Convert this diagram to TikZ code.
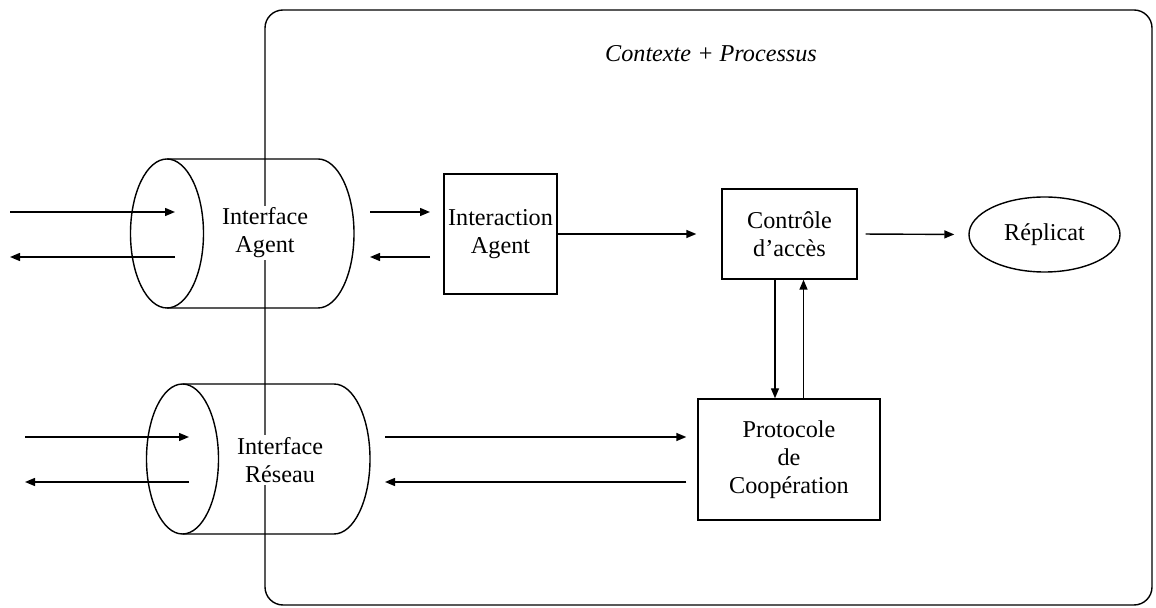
\documentclass[tikz,border=0pt]{standalone}
\usepackage{fontspec}
\setmainfont{Liberation Serif}
\usetikzlibrary{arrows.meta,shapes.geometric}
\begin{document}
\begin{tikzpicture}[x=0.5pt,y=-0.5pt,line width=0.7pt,
  arr/.style={-{Triangle[length=5pt,width=4pt]}},
  lbl/.style={font=\fontsize{12.1}{14}\selectfont,align=center},
  box/.style={lbl,draw,fill=white,inner sep=0pt},
  mask/.style={lbl,fill=white,inner sep=1pt}]
\useasboundingbox (0,0) rectangle (1156,608);
% container
\draw[rounded corners=9pt] (265,10) rectangle (1152,605);
\node[lbl,font=\fontsize{12.1}{14}\selectfont\itshape] (title) at (711,54) {Contexte + Processus};
% cylinder 1
\draw (167,233.5) ellipse [x radius=36.5, y radius=74.5];
\draw (167,159) -- (318,159) arc[start angle=-90,end angle=90,x radius=36,y radius=74.5] -- (167,308);
\node[mask] (ia) at (265,233) {Interface\\Agent};
% cylinder 2
\draw (182.5,459) ellipse [x radius=36, y radius=75];
\draw (182.5,384) -- (334,384) arc[start angle=-90,end angle=90,x radius=36,y radius=75] -- (182.5,534);
\node[mask] (ir) at (280,460) {Interface\\R\'eseau};
% boxes
\node[box,minimum width=56.5pt,minimum height=60pt] (inter) at (500.5,234) {Interaction\\Agent};
\node[box,minimum width=67.5pt,minimum height=45pt] (ctrl) at (789.5,234) {Contr\^ole\\d'acc\`es};
\node[box,ellipse,minimum width=75.5pt,minimum height=37.5pt] (rep) at (1044.5,234.5) {R\'eplicat};
\node[box,minimum width=91pt,minimum height=60.5pt] (proto) at (789,459.5) {Protocole\\de\\Coop\'eration};
% free ends
\coordinate (a1) at (10,212);  \coordinate (a2) at (175,212);
\coordinate (b1) at (175,257); \coordinate (b2) at (10,257);
\coordinate (c1) at (25,437);  \coordinate (c2) at (189,437);
\coordinate (d1) at (189,482); \coordinate (d2) at (25,482);
\coordinate (e1) at (370,212); \coordinate (e2) at (430,212);
\coordinate (f1) at (430,257); \coordinate (f2) at (370,257);
\coordinate (g1) at (385,437); \coordinate (h2) at (385,482);
% arrows
\draw[arr] (a1) -- (a2);
\draw[arr] (b1) -- (b2);
\draw[arr] (c1) -- (c2);
\draw[arr] (d1) -- (d2);
\draw[arr] (e1) -- (e2);
\draw[arr] (f1) -- (f2);
\draw[arr,shorten >=12.5pt] (inter.east) -- (ctrl.west);
\draw[arr,shorten <=4pt,shorten >=7pt] (ctrl.east) -- (rep.west);
\draw[arr] ([xshift=-7.25pt]ctrl.south) -- ([xshift=-7.25pt]ctrl.south |- proto.north);
\draw[arr] ([xshift=7.25pt]proto.north) -- ([xshift=7.25pt]proto.north |- ctrl.south);
\draw[arr,shorten >=5.5pt] (g1) -- (g1 -| proto.west);
\draw[arr,shorten <=5.5pt] (h2 -| proto.west) -- (h2);
\end{tikzpicture}
\end{document}
